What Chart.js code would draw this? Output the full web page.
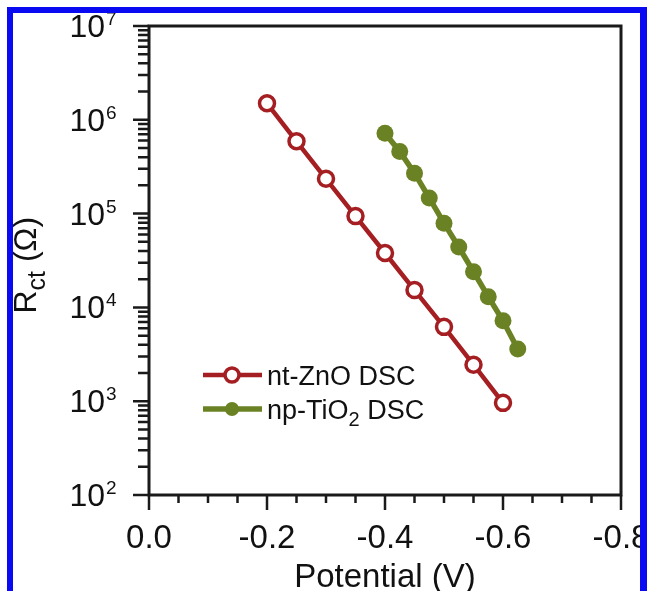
<!DOCTYPE html>
<html>
<head>
<meta charset="utf-8">
<script src="https://cdn.jsdelivr.net/npm/chart.js@4.4.0/dist/chart.umd.min.js"></script>
<style>
  html, body { margin: 0; padding: 0; background: #fff; }
  #wrap { position: relative; width: 647px; height: 591px; overflow: hidden; }
  #grafico { position: absolute; left: 0; top: 0; }
  .azul { position: absolute; background: #0a0af2; }
</style>
</head>
<body>
<div id="wrap">
  <canvas id="grafico" width="647" height="591"></canvas>
  <div class="azul" style="left:7px;top:7px;width:6px;height:584px"></div>
  <div class="azul" style="left:7px;top:7px;width:640px;height:6px"></div>
  <div class="azul" style="left:640px;top:7px;width:7px;height:584px"></div>
</div>
<script>
// dados
const potZnO = [-0.2, -0.25, -0.3, -0.35, -0.4, -0.45, -0.5, -0.55, -0.6];
const rctZnO = [1.5e6, 5.9e5, 2.35e5, 9.4e4, 3.8e4, 1.53e4, 6.2e3, 2.45e3, 960];
const potTiO2 = [-0.4, -0.425, -0.45, -0.475, -0.5, -0.525, -0.55, -0.575, -0.6, -0.625];
const rctTiO2 = [7.2e5, 4.6e5, 2.7e5, 1.47e5, 7.9e4, 4.4e4, 2.4e4, 1.3e4, 7.2e3, 3.6e3];

// eixos
const xMajor = [0, -0.2, -0.4, -0.6, -0.8];
const xLabels = ['0.0', '-0.2', '-0.4', '-0.6', '-0.8'];
const xMinor = [-0.05, -0.1, -0.15, -0.25, -0.3, -0.35, -0.45, -0.5, -0.55, -0.65, -0.7, -0.75];
const yExpoentes = [2, 3, 4, 5, 6, 7];
const yMultMenores = [2, 3, 4, 5, 6, 7, 8, 9];

const VERMELHO = '#a41e22';
const VERDE = '#6b8224';
const FONTE = '"Liberation Sans", Arial, sans-serif';

const eixosPlugin = {
  id: 'eixos',
  afterDraw(chart) {
    const ctx = chart.ctx;
    const a = chart.chartArea;
    const sx = chart.scales.x;
    const sy = chart.scales.y;
    ctx.save();
    ctx.strokeStyle = '#1a1a1a';
    ctx.fillStyle = '#111';

    // moldura
    ctx.lineWidth = 3;
    ctx.strokeRect(a.left, a.top, a.right - a.left, a.bottom - a.top);

    // marcas do eixo x
    ctx.lineWidth = 2.5;
    ctx.beginPath();
    xMajor.forEach(v => {
      const p = sx.getPixelForValue(v);
      ctx.moveTo(p, a.bottom); ctx.lineTo(p, a.bottom + 15);
    });
    xMinor.forEach(v => {
      const p = sx.getPixelForValue(v);
      ctx.moveTo(p, a.bottom); ctx.lineTo(p, a.bottom + 8);
    });
    // marcas do eixo y
    yExpoentes.forEach(e => {
      const p = sy.getPixelForValue(Math.pow(10, e));
      ctx.moveTo(a.left, p); ctx.lineTo(a.left - 16, p);
      if (e < 7) {
        yMultMenores.forEach(m => {
          const q = sy.getPixelForValue(m * Math.pow(10, e));
          ctx.moveTo(a.left, q); ctx.lineTo(a.left - 11, q);
        });
      }
    });
    ctx.stroke();

    // rótulos x
    ctx.font = '33px ' + FONTE;
    ctx.textAlign = 'center';
    ctx.textBaseline = 'alphabetic';
    xMajor.forEach((v, i) => {
      ctx.fillText(xLabels[i], sx.getPixelForValue(v), a.bottom + 53);
    });

    // rótulos y (10 com expoente)
    yExpoentes.forEach(e => {
      const p = sy.getPixelForValue(Math.pow(10, e));
      ctx.font = '32px ' + FONTE;
      ctx.textAlign = 'right';
      ctx.fillText('10', 105, p + 11);
      ctx.font = '19px ' + FONTE;
      ctx.textAlign = 'left';
      ctx.fillText(String(e), 106, p - 1);
    });

    // título x
    ctx.font = '33px ' + FONTE;
    ctx.textAlign = 'center';
    ctx.fillText('Potential (V)', (a.left + a.right) / 2, 587);

    // título y
    ctx.save();
    ctx.translate(36, (a.top + a.bottom) / 2 + 53);
    ctx.rotate(-Math.PI / 2);
    ctx.textAlign = 'left';
    ctx.font = '32px ' + FONTE;
    ctx.fillText('R', 0, 0);
    let w = ctx.measureText('R').width;
    ctx.font = '25px ' + FONTE;
    ctx.fillText('ct', w, 9);
    w += ctx.measureText('ct').width;
    ctx.font = '32px ' + FONTE;
    ctx.fillText(' (\u03A9)', w, 0);
    ctx.restore();

    // legenda
    const linhas = [
      { ds: chart.data.datasets[0], y: 375, r: 7, texto: 'nt-ZnO DSC', sub: '' },
      { ds: chart.data.datasets[1], y: 409, r: 7, texto: 'np-TiO', sub: '2', resto: ' DSC' }
    ];
    linhas.forEach(l => {
      ctx.strokeStyle = l.ds.borderColor;
      ctx.lineWidth = l.ds.borderWidth;
      ctx.beginPath();
      ctx.moveTo(203, l.y); ctx.lineTo(262, l.y);
      ctx.stroke();
      ctx.beginPath();
      ctx.arc(232, l.y, l.r, 0, Math.PI * 2);
      ctx.fillStyle = l.ds.pointBackgroundColor;
      ctx.fill();
      if (l.ds.pointBorderWidth > 0) {
        ctx.lineWidth = l.ds.pointBorderWidth;
        ctx.strokeStyle = l.ds.pointBorderColor;
        ctx.stroke();
      }
      ctx.fillStyle = '#111';
      ctx.textAlign = 'left';
      ctx.font = '27px ' + FONTE;
      ctx.fillText(l.texto, 267, l.y + 10);
      if (l.sub) {
        let x = 267 + ctx.measureText(l.texto).width;
        ctx.font = '20px ' + FONTE;
        ctx.fillText(l.sub, x, l.y + 17);
        x += ctx.measureText(l.sub).width;
        ctx.font = '27px ' + FONTE;
        ctx.fillText(l.resto, x, l.y + 10);
      }
    });
    ctx.restore();
  }
};

const ctx = document.getElementById('grafico').getContext('2d');

new Chart(ctx, {
  type: 'line',
  data: {
    datasets: [{
      label: 'nt-ZnO DSC',
      data: potZnO.map((v, i) => ({ x: v, y: rctZnO[i] })),
      borderColor: VERMELHO,
      borderWidth: 4.5,
      pointRadius: 7.5,
      pointBorderWidth: 3.5,
      pointBorderColor: VERMELHO,
      pointBackgroundColor: '#ffffff'
    }, {
      label: 'np-TiO2 DSC',
      data: potTiO2.map((v, i) => ({ x: v, y: rctTiO2[i] })),
      borderColor: VERDE,
      borderWidth: 5.5,
      pointRadius: 8.5,
      pointBorderWidth: 0,
      pointBorderColor: VERDE,
      pointBackgroundColor: VERDE
    }]
  },
  options: {
    responsive: false,
    animation: false,
    clip: false,
    layout: { padding: { left: 149, right: 26, top: 26, bottom: 96 } },
    plugins: {
      legend: { display: false },
      tooltip: { enabled: false }
    },
    scales: {
      x: { type: 'linear', min: -0.8, max: 0, reverse: true, display: false },
      y: { type: 'logarithmic', min: 100, max: 1e7, display: false }
    }
  },
  plugins: [eixosPlugin]
});
</script>
</body>
</html>
